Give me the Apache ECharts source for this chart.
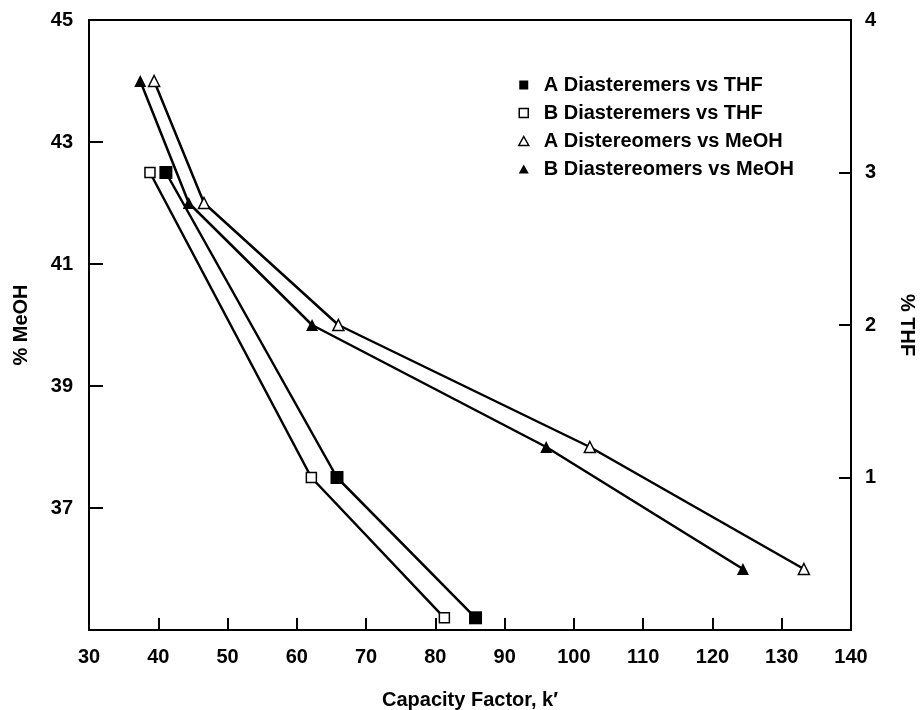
<!DOCTYPE html>
<html>
<head>
<meta charset="utf-8">
<script src="https://cdn.jsdelivr.net/npm/echarts@6/dist/echarts.min.js"></script>
<style>
  html, body { margin: 0; padding: 0; background: #fff; }
  #chart { width: 923px; height: 710px; }
</style>
</head>
<body>
<div id="chart"></div>
<script>
// Capacity factor k' (x) against % THF / % MeOH
const aThfK = [41.1, 65.8, 85.8];
const aThfPct = [3, 1, 0.08];
const bThfK = [38.8, 62.1, 81.3];
const bThfPct = [3, 1, 0.08];
const aMeohK = [39.4, 46.6, 66.0, 102.3, 133.2];
const aMeohPct = [44, 42, 40, 38, 36];
const bMeohK = [37.4, 44.4, 62.2, 96.0, 124.4];
const bMeohPct = [44, 42, 40, 38, 36];

const seriesNames = [
    'A Diasteremers vs THF',
    'B Diasteremers vs THF',
    'A Distereomers vs MeOH',
    'B Diastereomers vs MeOH'
];

const pairs = (xs, ys) => xs.map((x, i) => [x, ys[i]]);

const font = '"Liberation Sans", Arial, sans-serif';
const txt = { fontFamily: font, fontWeight: 'bold', fontSize: 20, color: '#000' };
const squarePath = 'path://M0,0h10v10h-10z';
const trianglePath = 'path://M5,0L10,9L0,9z';

const chart = echarts.init(document.getElementById('chart'));

// 線條樣式共用
const lineStyle = { color: '#000', width: 2.5 };

chart.setOption({
    animation: false,
    backgroundColor: '#fff',
    grid: {
        left: 89,
        right: 72,
        top: 20,
        bottom: 80,
        outerBoundsMode: 'none',
        containLabel: false,
        show: true,
        borderColor: '#000',
        borderWidth: 2
    },
    legend: {
        orient: 'vertical',
        left: 513,
        top: 70,
        itemWidth: 30,
        itemHeight: 9,
        itemGap: 8,
        textStyle: txt,
        data: [
            { name: seriesNames[0], icon: squarePath },
            { name: seriesNames[1], icon: squarePath, itemStyle: { borderWidth: 1.5 } },
            { name: seriesNames[2], icon: trianglePath, itemStyle: { borderWidth: 1.5 } },
            { name: seriesNames[3], icon: trianglePath }
        ]
    },
    xAxis: {
        type: 'value',
        min: 30,
        max: 140,
        interval: 10,
        name: 'Capacity Factor, k\u2032',
        nameLocation: 'middle',
        nameGap: 60,
        nameTextStyle: txt,
        axisLine: { lineStyle: { color: '#000', width: 2 } },
        axisTick: { inside: true, length: 12, lineStyle: { color: '#000', width: 2 } },
        axisLabel: Object.assign({ margin: 17 }, txt),
        splitLine: { show: false }
    },
    yAxis: [
        {
            type: 'value',
            min: 35,
            max: 45,
            interval: 2,
            name: '% MeOH',
            nameLocation: 'middle',
            nameRotate: 90,
            nameGap: 58,
            nameTextStyle: txt,
            axisLine: { show: true, lineStyle: { color: '#000', width: 2 } },
            axisTick: { inside: true, length: 14, lineStyle: { color: '#000', width: 2 } },
            axisLabel: Object.assign({
                margin: 16,
                formatter: v => (v === 35 ? '' : v)
            }, txt),
            splitLine: { show: false }
        },
        {
            type: 'value',
            min: 0,
            max: 4,
            interval: 1,
            position: 'right',
            name: '% THF',
            nameLocation: 'middle',
            nameRotate: -90,
            nameGap: 46,
            nameTextStyle: txt,
            axisLine: { show: true, lineStyle: { color: '#000', width: 2 } },
            axisTick: { inside: true, length: 12, lineStyle: { color: '#000', width: 2 } },
            axisLabel: Object.assign({
                margin: 14,
                formatter: v => (v === 0 ? '' : v)
            }, txt),
            splitLine: { show: false }
        }
    ],
    series: [
        {
            name: seriesNames[0],
            type: 'line',
            yAxisIndex: 1,
            data: pairs(aThfK, aThfPct),
            symbol: 'rect',
            symbolSize: 13,
            itemStyle: { color: '#000' },
            lineStyle: lineStyle
        },
        {
            name: seriesNames[1],
            type: 'line',
            yAxisIndex: 1,
            data: pairs(bThfK, bThfPct),
            symbol: 'rect',
            symbolSize: 10,
            itemStyle: { color: '#fff', borderColor: '#000', borderWidth: 1.5 },
            lineStyle: lineStyle
        },
        {
            name: seriesNames[2],
            type: 'line',
            yAxisIndex: 0,
            data: pairs(aMeohK, aMeohPct),
            symbol: 'triangle',
            symbolSize: 11,
            itemStyle: { color: '#fff', borderColor: '#000', borderWidth: 1.5 },
            lineStyle: lineStyle
        },
        {
            name: seriesNames[3],
            type: 'line',
            yAxisIndex: 0,
            data: pairs(bMeohK, bMeohPct),
            symbol: 'triangle',
            symbolSize: 12,
            itemStyle: { color: '#000' },
            lineStyle: lineStyle
        }
    ]
});
</script>
</body>
</html>
